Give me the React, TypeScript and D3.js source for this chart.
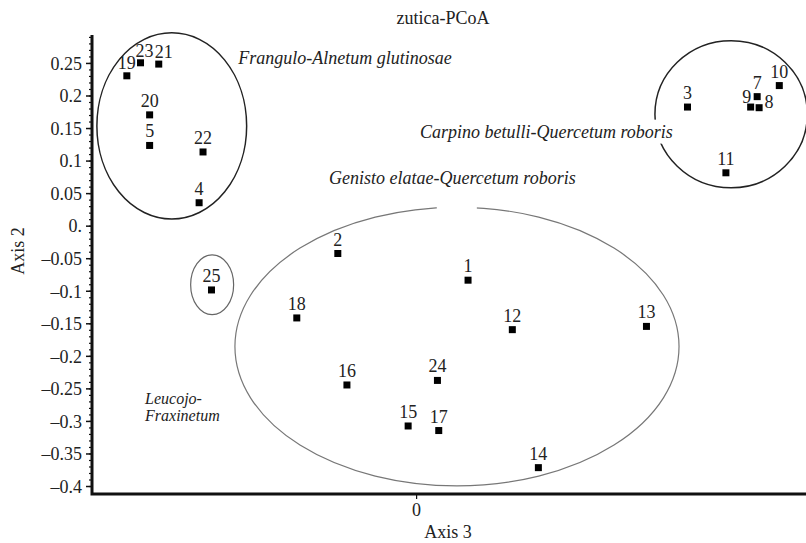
import React, { useEffect, useRef } from 'react'
import * as d3 from 'd3'

// site numbers and PCoA scores (axis 3 / axis 2)
const siteIds = [19, 23, 21, 20, 5, 22, 4, 3, 9, 8, 7, 10, 11, 25, 2, 1, 18, 12, 13, 16, 24, 15, 17, 14]
const axis3 = [-0.445, -0.424, -0.396, -0.41, -0.41, -0.328, -0.334, 0.416, 0.513, 0.526, 0.523, 0.557, 0.475, -0.315, -0.121, 0.079, -0.184, 0.147, 0.353, -0.107, 0.032, -0.013, 0.034, 0.187]
const axis2 = [0.231, 0.251, 0.249, 0.171, 0.124, 0.114, 0.036, 0.183, 0.183, 0.182, 0.199, 0.216, 0.082, -0.098, -0.042, -0.083, -0.141, -0.159, -0.154, -0.244, -0.237, -0.307, -0.314, -0.371]

const yTicks = [0.25, 0.2, 0.15, 0.1, 0.05, 0, -0.05, -0.1, -0.15, -0.2, -0.25, -0.3, -0.35, -0.4]
const yTickLabels = ['0.25', '0.2', '0.15', '0.1', '0.05', '0.', '–0.05', '–0.1', '–0.15', '–0.2', '–0.25', '–0.3', '–0.35', '–0.4']
const xTicks = [0]
const xTickLabels = ['0']

// community groups drawn as ellipses: centre + radii in axis units
const groupNames = ['Frangulo-Alnetum glutinosae', 'Carpino betulli-Quercetum roboris', 'Genisto elatae-Quercetum roboris', 'Leucojo-Fraxinetum']
const groupCx = [-0.376, 0.483, 0.062, -0.314]
const groupCy = [0.154, 0.172, -0.185, -0.09]
const groupRx = [0.115, 0.117, 0.341, 0.033]
const groupRy = [0.143, 0.113, 0.214, 0.046]

const groupColor = ['#222', '#222', '#777', '#666']

// where the group names are written (start x, first baseline y in axis units)
const nameLines = [
    { lines: ['Frangulo-Alnetum glutinosae'], x: -0.274, y: 0.2496, size: 18 },
    { lines: ['Carpino betulli-Quercetum roboris'], x: 0.0054, y: 0.136, size: 18, boxed: true },
    { lines: ['Genisto elatae-Quercetum roboris'], x: -0.1344, y: 0.0645, size: 18 },
    { lines: ['Leucojo-', 'Fraxinetum'], x: -0.417, y: -0.2727, size: 16 },
]

// label nudges for crowded points (px)
const labelNudge: Record<number, [number, number]> = {
    23: [4, 2],
    21: [5, 2],
    9: [-4, 4],
    8: [10, 8],
    19: [0, 1],
}

const FONT = '"Liberation Serif", "Times New Roman", Times, serif'

const App: React.FC = () => {
    const svgRef = useRef<SVGSVGElement | null>(null)

    useEffect(() => {
        if (!svgRef.current) return
        const width = 806
        const height = 543
        const margin = { top: 35, right: 0, bottom: 49, left: 92 }

        const svg = d3.select(svgRef.current)
        svg.selectAll('*').remove()
        svg.attr('width', width).attr('height', height)

        const x = d3
            .scaleLinear()
            .domain([-0.4985, 0.598])
            .range([margin.left, width - margin.right])
        const y = d3
            .scaleLinear()
            .domain([0.2937, -0.4115])
            .range([margin.top, height - margin.bottom])

        const txt = (sel: d3.Selection<any, any, any, any>, size = 18) =>
            sel.attr('font-family', FONT).attr('font-size', size).attr('fill', '#222')

        // title
        txt(svg.append('text'))
            .attr('x', 443)
            .attr('y', 24)
            .attr('text-anchor', 'middle')
            .text('zutica-PCoA')

        // ellipses
        groupNames.forEach((name, i) => {
            svg.append('ellipse')
                .attr('cx', x(groupCx[i]))
                .attr('cy', y(groupCy[i]))
                .attr('rx', x(groupCx[i] + groupRx[i]) - x(groupCx[i]))
                .attr('ry', y(groupCy[i] - groupRy[i]) - y(groupCy[i]))
                .attr('fill', 'none')
                .attr('stroke', groupColor[i])
                .attr('stroke-width', i < 2 ? 1.5 : 1.2)
        })
        // break in the top of the big ellipse
        const topY = y(groupCy[2] + groupRy[2])
        svg.append('rect')
            .attr('x', x(0.031))
            .attr('y', topY - 4)
            .attr('width', x(0.0925) - x(0.031))
            .attr('height', 8)
            .attr('fill', 'white')

        // group names
        nameLines.forEach((d) => {
            const t = txt(svg.append('text'), d.size)
                .attr('y', y(d.y))
                .attr('font-style', 'italic')
            d.lines.forEach((line, j) => {
                t.append('tspan')
                    .attr('x', x(d.x))
                    .attr('dy', j === 0 ? 0 : 17)
                    .text(line)
            })
            if (d.boxed) {
                const b = (t.node() as SVGTextElement).getBBox()
                svg.insert('rect', () => t.node())
                    .attr('x', b.x - 2)
                    .attr('y', b.y - 2)
                    .attr('width', b.width + 4)
                    .attr('height', b.height + 4)
                    .attr('fill', 'white')
            }
        })

        // y axis
        const yAxis = svg.append('g')
        const minor = d3.range(-40, 30).map((v) => v / 100)
        yAxis.selectAll('line.minor')
            .data(minor)
            .join('line')
            .attr('x1', margin.left - 3)
            .attr('x2', margin.left)
            .attr('y1', (d) => y(d))
            .attr('y2', (d) => y(d))
            .attr('stroke', '#111')
            .attr('stroke-width', 1.2)
        yAxis.selectAll('line.major')
            .data(yTicks)
            .join('line')
            .attr('x1', margin.left - 6)
            .attr('x2', margin.left)
            .attr('y1', (d) => y(d))
            .attr('y2', (d) => y(d))
            .attr('stroke', '#111')
            .attr('stroke-width', 1.5)
        txt(yAxis.selectAll('text').data(yTicks).join('text'))
            .attr('x', 82)
            .attr('y', (d) => y(d))
            .attr('dy', '0.35em')
            .attr('text-anchor', 'end')
            .text((_, i) => yTickLabels[i])

        // x axis ticks
        svg.selectAll('line.xt')
            .data(xTicks)
            .join('line')
            .attr('x1', (d) => x(d))
            .attr('x2', (d) => x(d))
            .attr('y1', y.range()[1])
            .attr('y2', y.range()[1] + 5)
            .attr('stroke', '#111')
            .attr('stroke-width', 1.2)
        txt(svg.append('g').selectAll('text').data(xTicks).join('text'))
            .attr('x', (d) => x(d))
            .attr('y', 516)
            .attr('text-anchor', 'middle')
            .text((_, i) => xTickLabels[i])

        // axis lines
        svg.append('path')
            .attr('d', `M${margin.left},${margin.top}V${height - margin.bottom}H${width}`)
            .attr('fill', 'none')
            .attr('stroke', '#111')
            .attr('stroke-width', 3)

        // axis titles
        txt(svg.append('text'))
            .attr('x', 448)
            .attr('y', 538)
            .attr('text-anchor', 'middle')
            .text('Axis 3')
        txt(svg.append('text'))
            .attr('transform', 'translate(24,251) rotate(-90)')
            .attr('text-anchor', 'middle')
            .text('Axis 2')

        // points
        const pts = siteIds.map((id, i) => ({ id, a3: axis3[i], a2: axis2[i] }))
        svg.append('g')
            .selectAll('rect')
            .data(pts)
            .join('rect')
            .attr('x', (d) => x(d.a3) - 3.5)
            .attr('y', (d) => y(d.a2) - 3.5)
            .attr('width', 7)
            .attr('height', 7)
            .attr('fill', '#000')
        txt(svg.append('g').selectAll('text').data(pts).join('text'))
            .attr('x', (d) => x(d.a3) + (labelNudge[d.id]?.[0] ?? 0))
            .attr('y', (d) => y(d.a2) - 8 + (labelNudge[d.id]?.[1] ?? 0))
            .attr('text-anchor', 'middle')
            .text((d) => d.id)
    }, [])

    return (
        <div style={{ position: 'absolute', left: 0, top: 0, background: 'white' }}>
            <svg ref={svgRef} style={{ display: 'block' }}></svg>
        </div>
    )
}

export default App
